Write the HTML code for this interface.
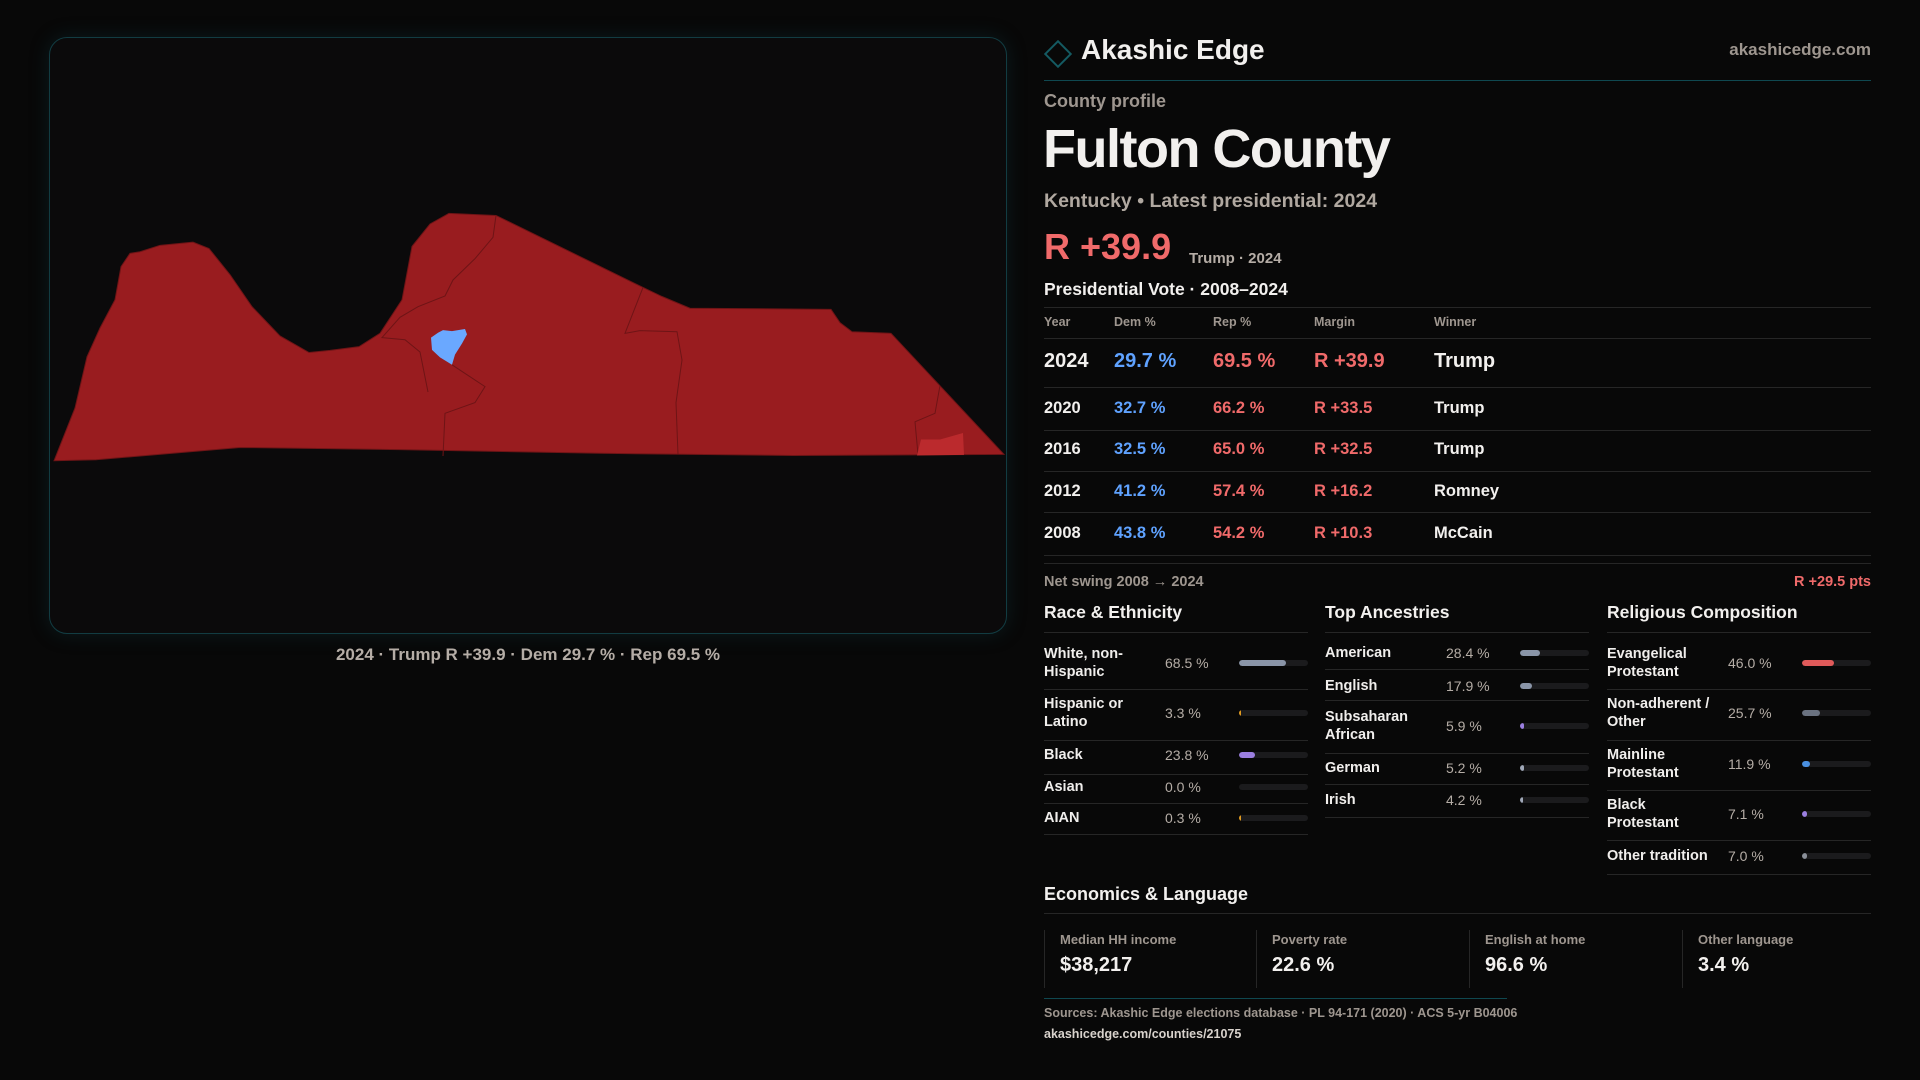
<!DOCTYPE html>
<html><head><meta charset="utf-8">
<style>
*{margin:0;padding:0;box-sizing:border-box}
body{width:1920px;height:1080px;background:#080808;font-family:"Liberation Sans",sans-serif;color:#f2f0ee;position:relative;overflow:hidden}
.a{position:absolute;white-space:nowrap}
.g{color:#9e968f}
.hl{position:absolute;height:1px;background:#262626}
.lbl{font-size:14.5px;font-weight:bold;color:#f0eeec;line-height:18px}
.val{font-size:14px;color:#b5ada6}
</style></head><body>
<div class="a" style="left:49px;top:37px;width:958px;height:597px;border:1px solid #123c42;border-radius:18px;background:#0b0a0b;box-shadow:0 0 20px rgba(20,80,90,0.25)"></div>
<svg class="a" style="left:0;top:0" width="1010" height="640">
<g transform="matrix(1 0 0 0.5333 0 93.33)">
<polygon fill="#991c1f" stroke="#6e1416" stroke-width="1" vector-effect="non-scaling-stroke" points="54,689 75,590 87,494 100,440 115,387 121,325 130,300 140,297 160,285 193,279 209,291 230,340 252,400 280,455 309,486 330,482 359,475 380,450 402,387 412,287 430,245 449,225 496,229 643,364 662,381 690,403 831,405 840,430 852,447 891,450 1004,677 793,679 600,675 400,668 240,664 96,687"/>
<polyline fill="none" stroke="#6e1416" vector-effect="non-scaling-stroke" points="496,229 493,270 475,310 453,350 445,380 418,400 400,420 382,458 405,462 420,485 428,560"/>
<polyline fill="none" stroke="#6e1416" vector-effect="non-scaling-stroke" points="452,509 485,550 475,580 445,600 443,680"/>
<polyline fill="none" stroke="#6e1416" vector-effect="non-scaling-stroke" points="643,364 625,450 640,445 677,447 682,500 676,580 678,677"/>
<polyline fill="none" stroke="#6e1416" vector-effect="non-scaling-stroke" points="940,548 935,600 915,616 918,677"/>
<polygon fill="#bb2a2d" points="921,649 940,649 963,637 964,678 917,679"/>
<polygon fill="#6aa8ff" points="431,458 438,449 443,444 452,446 465,442 467,452 462,469 455,490 452,509 440,495 432,481"/>
</g>
</svg>
<div class="a g" style="left:0;width:1056px;top:645px;text-align:center;font-size:17px;font-weight:bold;color:#b5ada6">2024 · Trump R +39.9 · Dem 29.7 % · Rep 69.5 %</div>

<div class="a" style="left:1048px;top:44px;width:20px;height:20px;border:2px solid #145a62;transform:rotate(45deg)"></div>
<div class="a" style="left:1081px;top:34px;font-size:28px;font-weight:bold">Akashic Edge</div>
<div class="a g" style="right:49px;top:40px;font-size:17px;font-weight:bold">akashicedge.com</div>
<div class="hl" style="left:1044px;top:80px;width:827px;background:#0f4850"></div>
<div class="a g" style="left:1044px;top:91px;font-size:18px;font-weight:bold">County profile</div>
<div class="a" style="left:1043px;top:118px;font-size:54px;font-weight:bold;letter-spacing:-1.5px">Fulton County</div>
<div class="a g" style="left:1044px;top:190px;font-size:19.5px;font-weight:bold;color:#b0a8a0">Kentucky • Latest presidential: 2024</div>
<div class="a" style="left:1044px;top:226px;font-size:36px;font-weight:bold;color:#f06a6a">R +39.9</div>
<div class="a g" style="left:1189px;top:250px;font-size:15px;font-weight:bold;color:#b5ada6">Trump · 2024</div>
<div class="a" style="left:1044px;top:279px;font-size:17.5px;font-weight:bold">Presidential Vote · 2008–2024</div>
<div class="hl" style="left:1044px;top:307px;width:827px"></div>
<div id="vt"></div>
<div class="a g" style="left:1044px;top:574px;font-size:14.5px;font-weight:bold">Net swing 2008 → 2024</div>
<div class="a" style="right:49px;top:574px;font-size:14.5px;font-weight:bold;color:#f06a6a">R +29.5 pts</div>
<div id="demo"></div>

<div class="a" style="left:1044px;top:884px;font-size:18px;font-weight:bold">Economics &amp; Language</div>
<div class="hl" style="left:1044px;top:913px;width:827px"></div>
<div id="econ"></div>
<div class="hl" style="left:1044px;top:998px;width:463px;background:#0f4850"></div>
<div class="a g" style="left:1044px;top:1006px;font-size:12.5px;font-weight:bold">Sources: Akashic Edge elections database · PL 94-171 (2020) · ACS 5-yr B04006</div>
<div class="a" style="left:1044px;top:1027px;font-size:12.5px;font-weight:bold;color:#d8d2cc">akashicedge.com/counties/21075</div>

<script>
const years=["2024","2020","2016","2012","2008"];
const demPct=[29.7,32.7,32.5,41.2,43.8];
const repPct=[69.5,66.2,65.0,57.4,54.2];
const margins=[39.9,33.5,32.5,16.2,10.3];
const winners=["Trump","Trump","Trump","Romney","McCain"];
const raceLabels=["White, non-<br>Hispanic","Hispanic or<br>Latino","Black","Asian","AIAN"];
const raceValues=[68.5,3.3,23.8,0.0,0.3];
const ancLabels=["American","English","Subsaharan<br>African","German","Irish"];
const ancValues=[28.4,17.9,5.9,5.2,4.2];
const relLabels=["Evangelical<br>Protestant","Non-adherent /<br>Other","Mainline<br>Protestant","Black<br>Protestant","Other tradition"];
const relValues=[46.0,25.7,11.9,7.1,7.0];
const econLabels=["Median HH income","Poverty rate","English at home","Other language"];
const econValues=["$38,217","22.6 %","96.6 %","3.4 %"];

function mk(html,parent){const d=document.createElement('div');d.innerHTML=html;const e=d.firstElementChild;parent.appendChild(e);return e;}
const vt=document.getElementById('vt');
const cols=[1044,1114,1213,1314,1434];
["Year","Dem %","Rep %","Margin","Winner"].forEach((h,i)=>{
 const e=mk(`<div class="a g" style="left:${cols[i]}px;top:315px;font-size:12.5px;font-weight:bold">${h}</div>`,vt);
 
 
});
const rowY=[361,408,449,491,533];
const ruleY=[338,387,430,471,512,555,563];
ruleY.forEach(y=>{const e=mk(`<div class="hl" style="left:1044px;top:${y}px;width:827px"></div>`,vt);
 
 });
years.forEach((y,i)=>{
 const big=i===0, fs=big?20:16.5, top=rowY[i]-(big?11:9);
 const vals=[y,demPct[i].toFixed(1)+" %",repPct[i].toFixed(1)+" %","R +"+margins[i].toFixed(1),winners[i]];
 const colr=["#f2f0ee","#5fa2ff","#f06a6a","#f06a6a","#f2f0ee"];
 vals.forEach((v,j)=>{
  const e=mk(`<div class="a" style="left:${cols[j]}px;top:${top}px;font-size:${fs}px;font-weight:bold;color:${colr[j]}">${v}</div>`,vt);
  
  
 });
});
const demo=document.getElementById('demo');
function section(x,title,labels,values,colors,rowYs,rules,valX,barX){
 const h=mk(`<div class="a" style="left:${x}px;top:602px;font-size:17.5px;font-weight:bold">${title}</div>`,demo);
 
 
 const r0=mk(`<div class="hl" style="left:${x}px;top:632px;width:264px"></div>`,demo);
 
 
 labels.forEach((l,i)=>{
  const two=l.includes('<br>');
  const le=mk(`<div class="a lbl" style="left:${x}px;top:${rowYs[i]-(two?18:9)}px">${l}</div>`,demo);
  
  
  const ve=mk(`<div class="a val" style="left:${valX}px;top:${rowYs[i]-8}px">${values[i].toFixed(1)} %</div>`,demo);
  
  
  const bw=69, fw=Math.max(values[i]>0?2:0,bw*values[i]/100);
  const tr=mk(`<div class="a" style="left:${barX}px;top:${rowYs[i]-3}px;width:${bw}px;height:6px;border-radius:3px;background:#1b1b1d;overflow:hidden"><div style="width:${fw}px;height:6px;border-radius:3px;background:${colors[i]}"></div></div>`,demo);
  
  
  const rl=mk(`<div class="hl" style="left:${x}px;top:${rules[i]}px;width:264px"></div>`,demo);
  
  
 });
}
section(1044,"Race &amp; Ethnicity",raceLabels,raceValues,["#8a95a8","#e09a20","#9b7fe0","#8a95a8","#e09a20"],[663,713,755,787,818],[689,740,774,803,834],1165,1239);
section(1325,"Top Ancestries",ancLabels,ancValues,["#8a95a8","#8a95a8","#9b7fe0","#a0a8b8","#a0a8b8"],[653,686,726,768,800],[669,700,753,784,817],1446,1520);
section(1607,"Religious Composition",relLabels,relValues,["#e05a5a","#6a7280","#4a90e0","#9b7fe0","#8a8f98"],[663,713,764,814,856],[689,740,790,840,874],1728,1802);
const econ=document.getElementById('econ');
const ex=[1044,1256,1469,1682];
econLabels.forEach((l,i)=>{
 const c=mk(`<div class="a" style="left:${ex[i]}px;top:930px;width:212px;height:58px;border-left:1px solid #262626"><div class="a g" style="left:15px;top:2px;font-size:13px;font-weight:bold">${l}</div><div class="a" style="left:15px;top:24px;font-size:20px;font-weight:bold">${econValues[i]}</div></div>`,econ);
 
 
});
</script>
</body></html>
